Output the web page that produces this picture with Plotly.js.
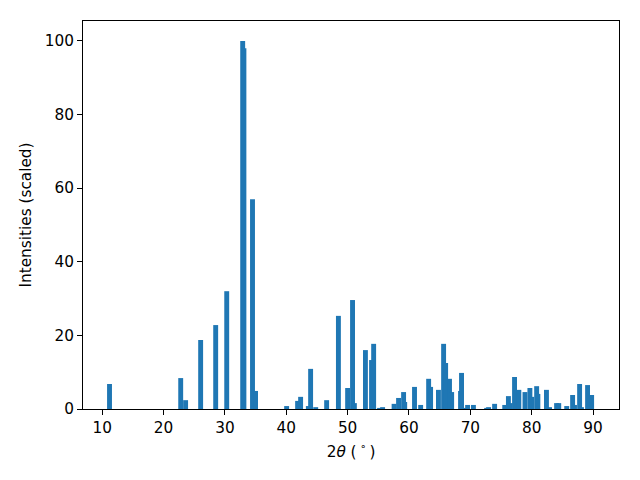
<!DOCTYPE html>
<html><head><meta charset="utf-8">
<script src="https://cdn.plot.ly/plotly-3.0.1.min.js"></script>
<style>body{margin:0;padding:0;background:#fff}#c{width:640px;height:480px}</style>
</head><body><div id="c"></div>
<script>
const twoTheta = [11.2,22.8,23.6,26.05,28.5,30.3,32.9,33.1,34.5,35.0,
  40.06,41.85,42.34,43.6,43.97,44.8,46.58,48.5,50.0,50.8,51.1,52.9,53.9,54.24,55.2,55.7,
  57.57,58.3,59.12,59.3,60.9,61.9,63.2,63.52,64.8,65.64,65.97,66.6,66.95,68.4,68.56,69.1,69.55,70.5,
  72.65,72.97,73.95,75.6,76.2,76.5,77.2,77.9,78.9,79.7,80.0,80.8,81.0,82.4,82.9,84.05,84.4,85.7,
  86.66,86.97,87.8,88.1,89.1,89.76];
const intensity = [6.8,8.4,2.4,18.75,22.8,32.0,100.0,98.0,57.0,4.9,
  0.8,2.2,3.3,0.8,10.9,0.5,2.4,25.3,5.7,29.6,1.6,16.0,13.3,17.7,0.3,0.5,
  1.4,3.0,4.6,1.9,6.0,1.1,8.2,6.0,5.2,17.7,12.5,8.2,4.6,4.9,9.8,0.3,1.1,1.1,
  0.3,0.5,1.4,1.1,3.5,1.6,8.7,5.2,4.6,5.7,3.3,6.2,4.1,5.2,0.5,1.6,1.6,0.8,
  3.8,1.1,6.8,0.5,6.5,3.8];
const xTicks = [10,20,30,40,50,60,70,80,90];
const yTicks = [0,20,40,60,80,100];

const font = {family:'DejaVu Sans', size:15.3, color:'#000'};
Plotly.newPlot('c', [{
  type:'bar', x:twoTheta, y:intensity, width:0.8,
  marker:{color:'#1f77b4', line:{width:0}}, hoverinfo:'skip'
}], {
  width:640, height:480, margin:{l:83,r:21,t:21,b:71},
  paper_bgcolor:'#fff', plot_bgcolor:'#fff', showlegend:false, barmode:'overlay',
  font:font,
  xaxis:{range:[6.88,94.22], tickvals:xTicks, ticktext:xTicks.map(String), ticks:'outside', ticklen:5, tickcolor:'#000',
    showline:true, mirror:true, linecolor:'#000', linewidth:1, showgrid:false, zeroline:false, tickfont:font,
    title:{text:'2<i>θ</i> (\u2009<sup>∘</sup>\u2009)', font:font, standoff:9}},
  yaxis:{range:[0,105.4], tickvals:yTicks, ticktext:yTicks.map(String), ticks:'outside', ticklen:5, tickcolor:'#000',
    showline:true, mirror:true, linecolor:'#000', linewidth:1, showgrid:false, zeroline:false, tickfont:font,
    title:{text:'Intensities (scaled)', font:font, standoff:9}}
}, {staticPlot:true});
</script></body></html>
